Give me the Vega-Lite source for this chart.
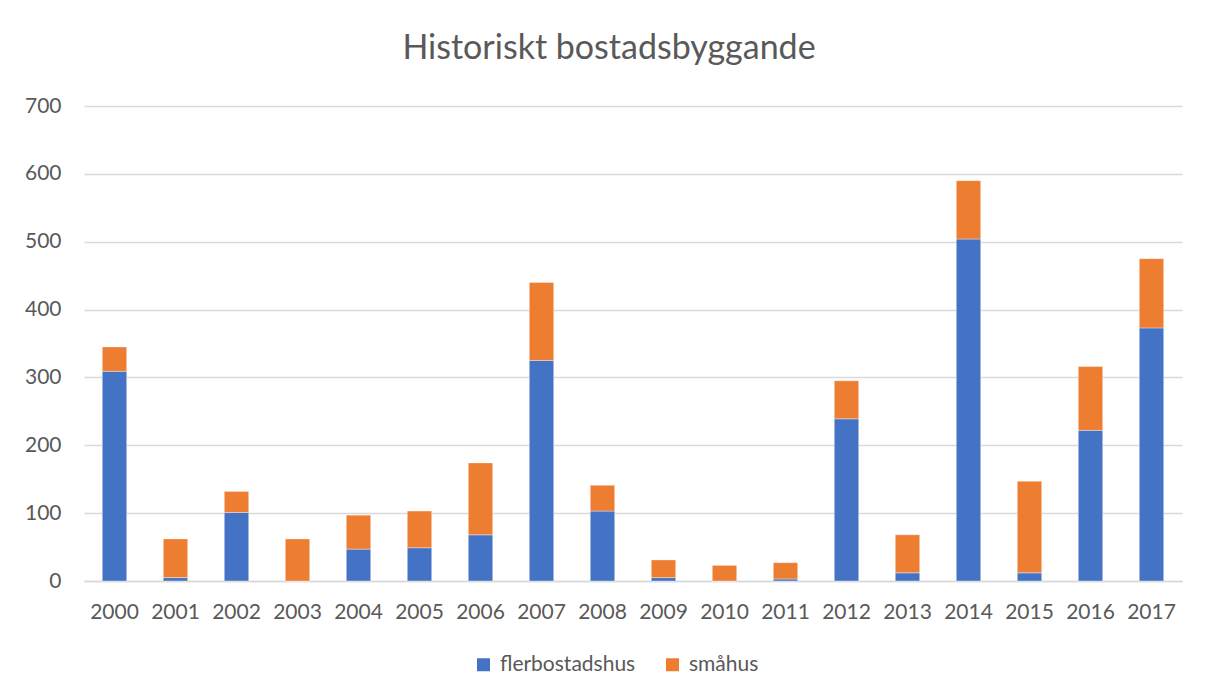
{
  "$schema": "https://vega.github.io/schema/vega-lite/v6.json",
  "width": 1098,
  "height": 475,
  "autosize": {"type": "none"},
  "padding": {"left": 84, "top": 106, "right": 24, "bottom": 118},
  "background": "white",
  "title": {
    "text": "Historiskt bostadsbyggande",
    "font": "Lato",
    "fontSize": 34,
    "fontWeight": "normal",
    "color": "#595959",
    "anchor": "middle",
    "frame": "group",
    "baseline": "alphabetic",
    "offset": 2,
    "dx": -24
  },
  "data": {
    "values": [
      {"year": "2000", "typ": "flerbostadshus", "antal": 309},
      {"year": "2000", "typ": "småhus", "antal": 36},
      {"year": "2001", "typ": "flerbostadshus", "antal": 5},
      {"year": "2001", "typ": "småhus", "antal": 57},
      {"year": "2002", "typ": "flerbostadshus", "antal": 101},
      {"year": "2002", "typ": "småhus", "antal": 31},
      {"year": "2003", "typ": "flerbostadshus", "antal": 0},
      {"year": "2003", "typ": "småhus", "antal": 62},
      {"year": "2004", "typ": "flerbostadshus", "antal": 47},
      {"year": "2004", "typ": "småhus", "antal": 50},
      {"year": "2005", "typ": "flerbostadshus", "antal": 49},
      {"year": "2005", "typ": "småhus", "antal": 54},
      {"year": "2006", "typ": "flerbostadshus", "antal": 68},
      {"year": "2006", "typ": "småhus", "antal": 106},
      {"year": "2007", "typ": "flerbostadshus", "antal": 325},
      {"year": "2007", "typ": "småhus", "antal": 115},
      {"year": "2008", "typ": "flerbostadshus", "antal": 103},
      {"year": "2008", "typ": "småhus", "antal": 38},
      {"year": "2009", "typ": "flerbostadshus", "antal": 5},
      {"year": "2009", "typ": "småhus", "antal": 26},
      {"year": "2010", "typ": "flerbostadshus", "antal": 0},
      {"year": "2010", "typ": "småhus", "antal": 23},
      {"year": "2011", "typ": "flerbostadshus", "antal": 3},
      {"year": "2011", "typ": "småhus", "antal": 24},
      {"year": "2012", "typ": "flerbostadshus", "antal": 239},
      {"year": "2012", "typ": "småhus", "antal": 56},
      {"year": "2013", "typ": "flerbostadshus", "antal": 12},
      {"year": "2013", "typ": "småhus", "antal": 56},
      {"year": "2014", "typ": "flerbostadshus", "antal": 504},
      {"year": "2014", "typ": "småhus", "antal": 86},
      {"year": "2015", "typ": "flerbostadshus", "antal": 12},
      {"year": "2015", "typ": "småhus", "antal": 135},
      {"year": "2016", "typ": "flerbostadshus", "antal": 222},
      {"year": "2016", "typ": "småhus", "antal": 94},
      {"year": "2017", "typ": "flerbostadshus", "antal": 373},
      {"year": "2017", "typ": "småhus", "antal": 102}
    ]
  },
  "mark": {"type": "bar", "stroke": "white", "strokeWidth": 0.6, "strokeOpacity": 0.6},
  "encoding": {
    "x": {
      "field": "year",
      "type": "ordinal",
      "title": null,
      "scale": {"paddingInner": 0.6, "paddingOuter": 0.3},
      "axis": {
        "labelAngle": 0,
        "labelFont": "Lato",
        "labelFontSize": 21,
        "labelColor": "#595959",
        "labelPadding": 20,
        "ticks": false,
        "domain": true,
        "domainColor": "#d9d9d9",
        "domainWidth": 1.5,
        "grid": false
      }
    },
    "y": {
      "field": "antal",
      "type": "quantitative",
      "aggregate": "sum",
      "stack": "zero",
      "title": null,
      "scale": {"domain": [0, 700], "nice": false},
      "axis": {
        "values": [0, 100, 200, 300, 400, 500, 600, 700],
        "labelFont": "Lato",
        "labelFontSize": 21,
        "labelColor": "#595959",
        "labelPadding": 23,
        "ticks": false,
        "domain": false,
        "grid": true,
        "gridColor": "#d9d9d9",
        "gridWidth": 1.5
      }
    },
    "order": {"field": "typ", "sort": "ascending"},
    "color": {
      "field": "typ",
      "type": "nominal",
      "scale": {"domain": ["flerbostadshus", "småhus"], "range": ["#4472C4", "#ED7D31"]},
      "legend": {
        "title": null,
        "orient": "none",
        "direction": "horizontal",
        "legendX": 389,
        "legendY": 548,
        "symbolType": "square",
        "symbolSize": 169,
        "symbolStrokeWidth": 0,
        "labelFont": "Lato",
        "labelFontSize": 21,
        "labelColor": "#595959",
        "labelOffset": 6,
        "columnPadding": 26
      }
    }
  },
  "config": {
    "view": {"stroke": null}
  }
}
